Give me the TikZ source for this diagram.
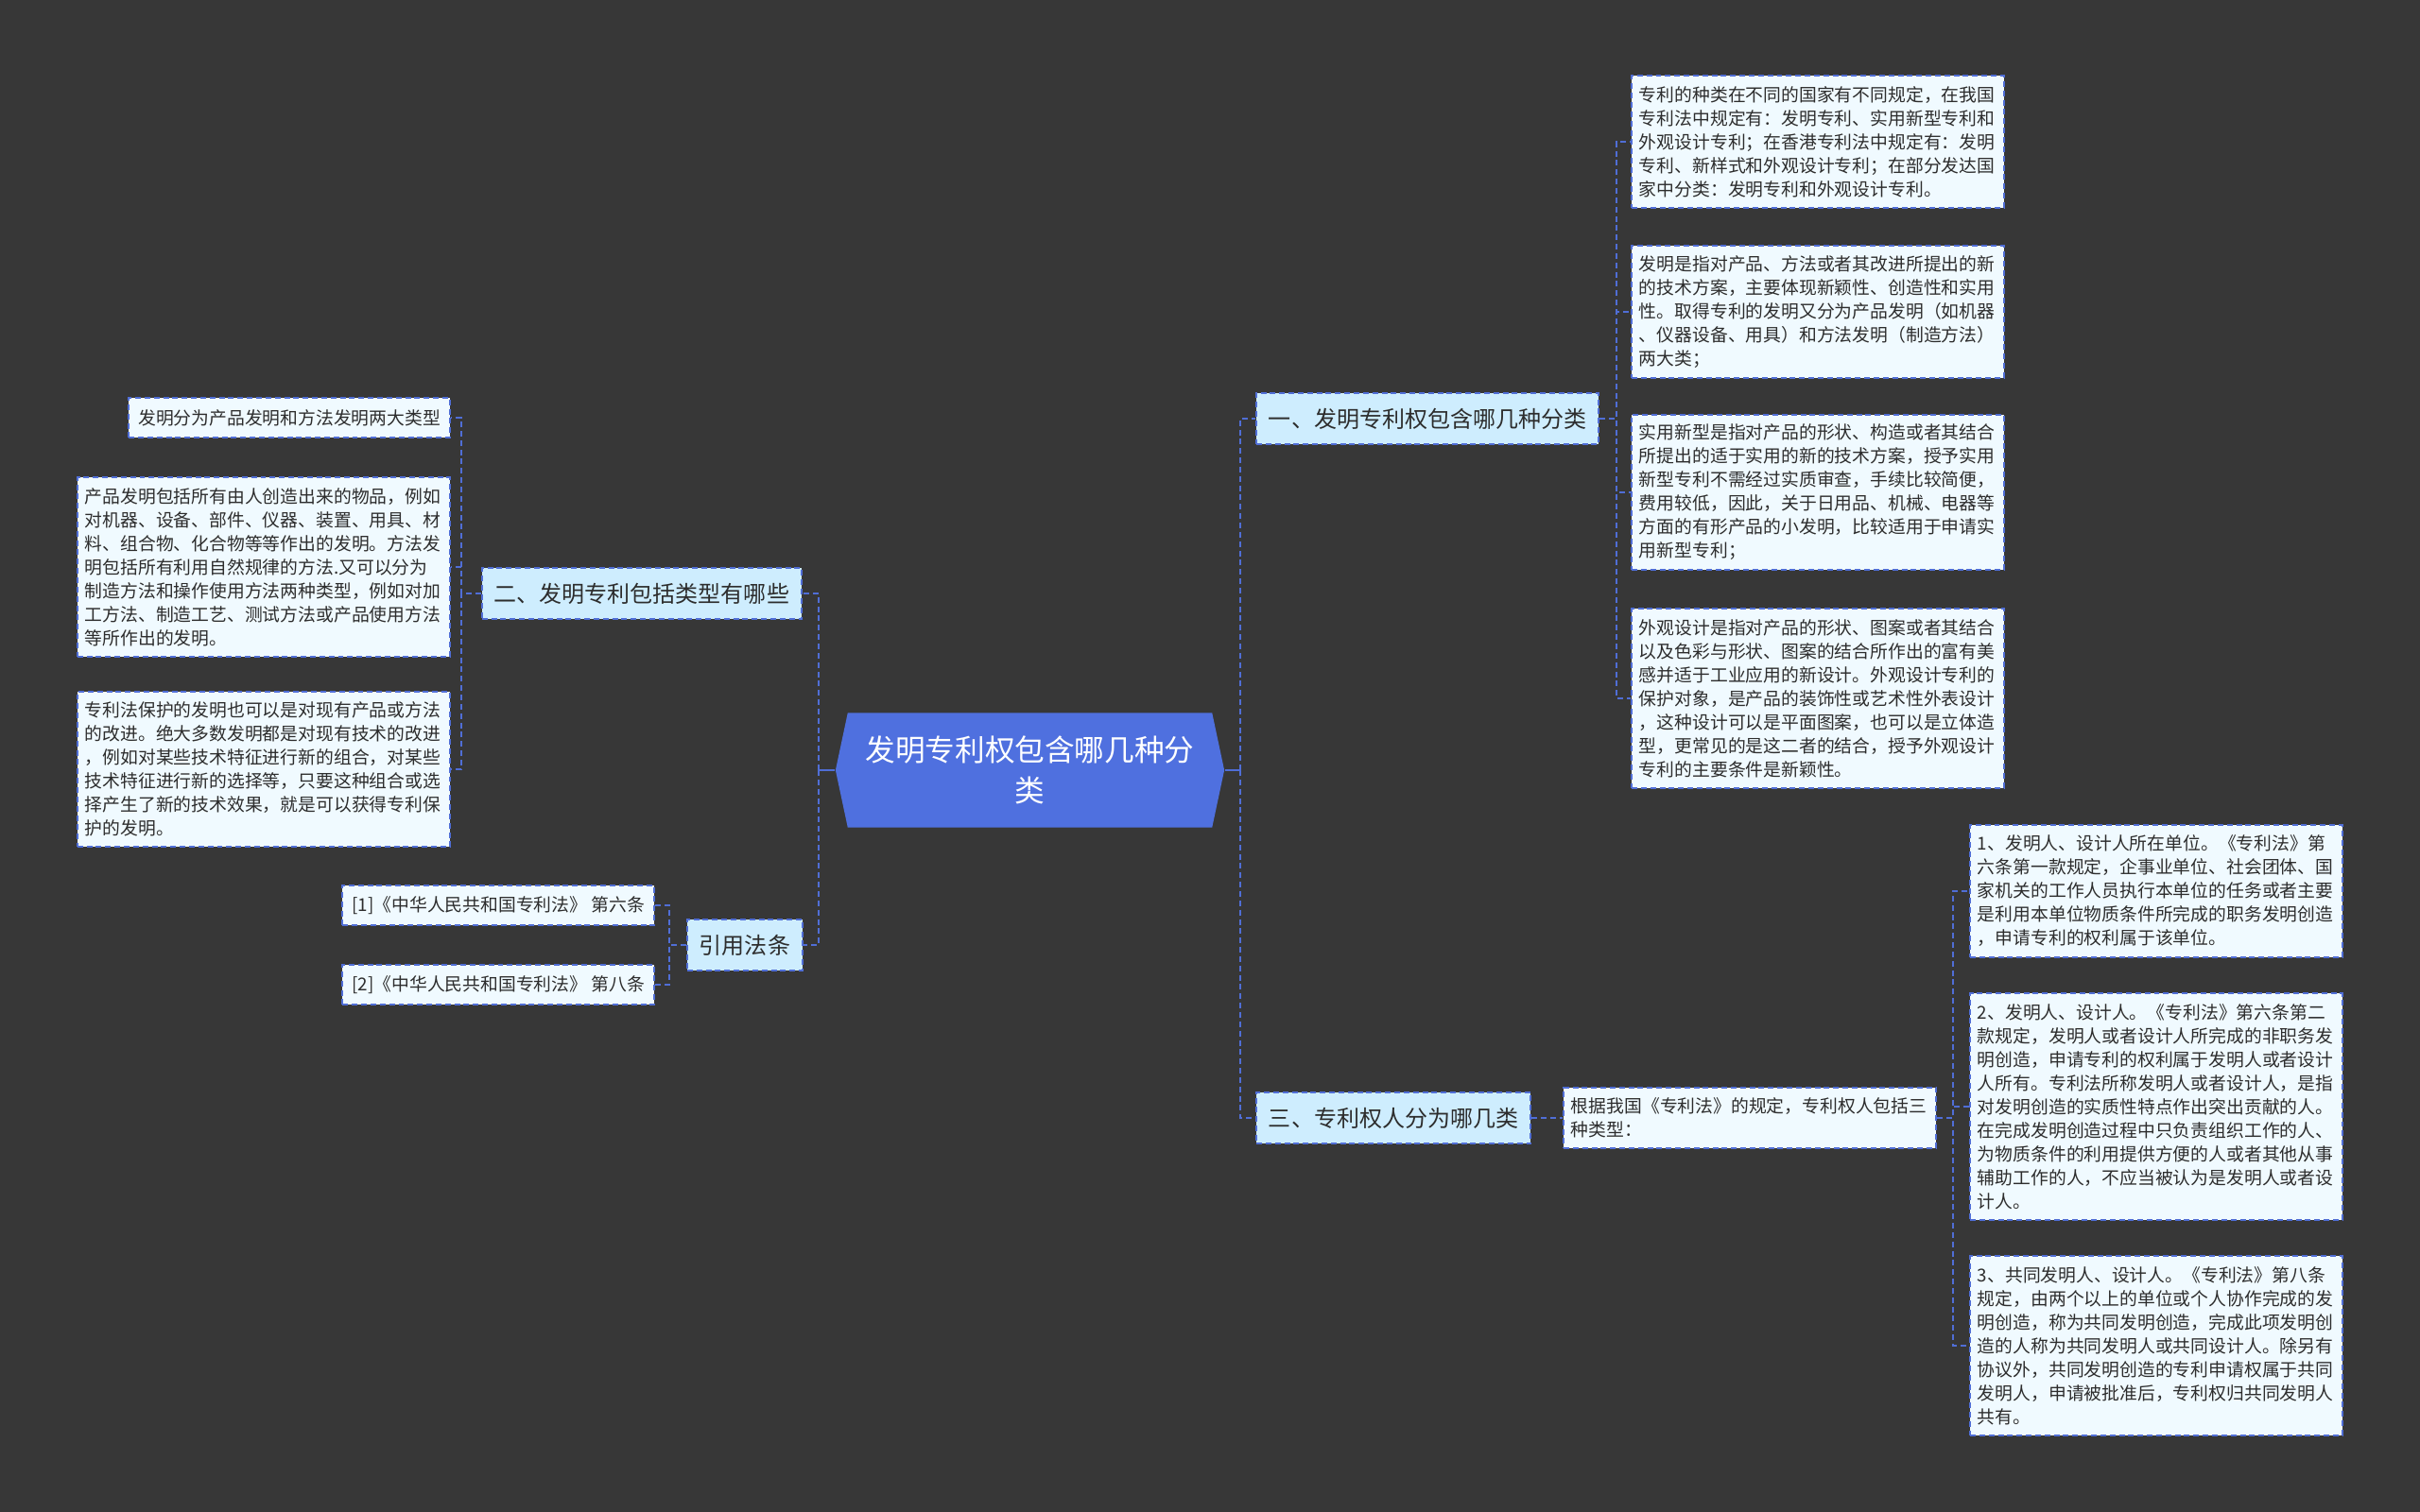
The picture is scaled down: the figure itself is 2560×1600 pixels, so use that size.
\documentclass[tikz,border=0pt]{standalone}
\usepackage{fontspec}
\usepackage{tikz}
\usetikzlibrary{shapes.symbols}
\newfontfamily\cjk{Noto Sans CJK SC}
\newcommand\rootfont{\cjk\fontsize{9pt}{12.2pt}\selectfont}
\newcommand\topicfont{\cjk\fontsize{6.83pt}{8pt}\selectfont}
\newcommand\leaffont{\cjk\fontsize{5.35pt}{7.11pt}\selectfont}
\definecolor{bgdark}{RGB}{55,55,55}
\definecolor{rootblue}{RGB}{79,112,223}
\definecolor{topicfill}{RGB}{206,237,254}
\definecolor{leaffill}{RGB}{240,250,255}
\definecolor{linkblue}{RGB}{80,110,214}
\definecolor{txt}{RGB}{45,45,45}
\tikzset{%
	boxdash/.style = {dash pattern=on 1.7pt off 1.1pt, line width=0.55pt},
	root/.style    = {shape=signal, signal to=east and west, signal pointer angle=156, fill=rootblue, text=white, minimum width=4.11cm, minimum height=1.21cm, align=center, font=\rootfont},
	topic/.style   = {draw=linkblue, boxdash, fill=topicfill, text=txt, minimum height=0.54cm, inner xsep=0.13cm, font=\topicfont},
	leaf/.style    = {draw=linkblue, boxdash, fill=leaffill, text=txt, text width=3.78cm, align=left, inner xsep=0.08cm, inner ysep=0pt, minimum height=#1*0.25cm+0.14cm, font=\leaffont},
	note/.style    = {draw=linkblue, boxdash, fill=leaffill, text=txt, inner xsep=0.1cm, minimum height=0.42cm, font=\leaffont},
	link/.style    = {draw=linkblue, boxdash},
	stem/.style    = {draw=linkblue, line width=0.55pt},
}
\begin{document}
\begin{tikzpicture}[x=0.01cm,y=-0.01cm]
	\useasboundingbox (0,0) rectangle (2560,1600);
	\fill[bgdark] (0,0) rectangle (2560,1600);
	% centre
	\node[root] (ctr) at (1089.5,815) {发明专利权包含哪几种分\\类};
	% right side
	\node[topic, anchor=west] (b1) at (1328,443) {一、发明专利权包含哪几种分类};
	\node[topic, anchor=west] (b3) at (1328,1183) {三、专利权人分为哪几类};
	\node[leaf=5, anchor=west] (l1a) at (1725,150) {专利的种类在不同的国家有不同规定，在我国\\
		专利法中规定有：发明专利、实用新型专利和\\
		外观设计专利；在香港专利法中规定有：发明\\
		专利、新样式和外观设计专利；在部分发达国\\
		家中分类：发明专利和外观设计专利。};
	\node[leaf=5, anchor=west] (l1b) at (1725,330) {发明是指对产品、方法或者其改进所提出的新\\
		的技术方案，主要体现新颖性、创造性和实用\\
		性。取得专利的发明又分为产品发明（如机器\\
		、仪器设备、用具）和方法发明（制造方法）\\
		两大类；};
	\node[leaf=6, anchor=west] (l1c) at (1725,521) {实用新型是指对产品的形状、构造或者其结合\\
		所提出的适于实用的新的技术方案，授予实用\\
		新型专利不需经过实质审查，手续比较简便，\\
		费用较低，因此，关于日用品、机械、电器等\\
		方面的有形产品的小发明，比较适用于申请实\\
		用新型专利；};
	\node[leaf=7, anchor=west] (l1d) at (1725,739) {外观设计是指对产品的形状、图案或者其结合\\
		以及色彩与形状、图案的结合所作出的富有美\\
		感并适于工业应用的新设计。外观设计专利的\\
		保护对象，是产品的装饰性或艺术性外表设计\\
		，这种设计可以是平面图案，也可以是立体造\\
		型，更常见的是这二者的结合，授予外观设计\\
		专利的主要条件是新颖性。};
	\node[leaf=2, anchor=west] (n3) at (1653,1183) {根据我国《专利法》的规定，专利权人包括三\\
		种类型：};
	\node[leaf=5, anchor=west] (l3a) at (2083,943) {1、发明人、设计人所在单位。《专利法》第\\
		六条第一款规定，企事业单位、社会团体、国\\
		家机关的工作人员执行本单位的任务或者主要\\
		是利用本单位物质条件所完成的职务发明创造\\
		，申请专利的权利属于该单位。};
	\node[leaf=9, anchor=west] (l3b) at (2083,1171) {2、发明人、设计人。《专利法》第六条第二\\
		款规定，发明人或者设计人所完成的非职务发\\
		明创造，申请专利的权利属于发明人或者设计\\
		人所有。专利法所称发明人或者设计人，是指\\
		对发明创造的实质性特点作出突出贡献的人。\\
		在完成发明创造过程中只负责组织工作的人、\\
		为物质条件的利用提供方便的人或者其他从事\\
		辅助工作的人，不应当被认为是发明人或者设\\
		计人。};
	\node[leaf=7, anchor=west] (l3c) at (2083,1424) {3、共同发明人、设计人。《专利法》第八条\\
		规定，由两个以上的单位或个人协作完成的发\\
		明创造，称为共同发明创造，完成此项发明创\\
		造的人称为共同发明人或共同设计人。除另有\\
		协议外，共同发明创造的专利申请权属于共同\\
		发明人，申请被批准后，专利权归共同发明人\\
		共有。};
	% left side
	\node[topic, anchor=east] (b2) at (849,628) {二、发明专利包括类型有哪些};
	\node[topic, anchor=east] (b4) at (850,1000) {引用法条};
	\node[note, anchor=east] (l2a) at (477,442) {发明分为产品发明和方法发明两大类型};
	\node[leaf=7, anchor=east] (l2b) at (477,600) {产品发明包括所有由人创造出来的物品，例如\\
		对机器、设备、部件、仪器、装置、用具、材\\
		料、组合物、化合物等等作出的发明。方法发\\
		明包括所有利用自然规律的方法.又可以分为\\
		制造方法和操作使用方法两种类型，例如对加\\
		工方法、制造工艺、测试方法或产品使用方法\\
		等所作出的发明。};
	\node[leaf=6, anchor=east] (l2c) at (477,814) {专利法保护的发明也可以是对现有产品或方法\\
		的改进。绝大多数发明都是对现有技术的改进\\
		，例如对某些技术特征进行新的组合，对某些\\
		技术特征进行新的选择等，只要这种组合或选\\
		择产生了新的技术效果，就是可以获得专利保\\
		护的发明。};
	\node[note, anchor=east] (r1) at (693,958) {[1]《中华人民共和国专利法》 第六条};
	\node[note, anchor=east] (r2) at (693,1042) {[2]《中华人民共和国专利法》 第八条};
	% connectors
	\coordinate (rs) at ([xshift=0.16cm]ctr.east);
	\coordinate (ls) at ([xshift=-0.17cm]ctr.west);
	\draw[stem] (ctr.east) -- (rs);
	\draw[stem] (ctr.west) -- (ls);
	\draw[link] (rs) |- (b1.west);
	\draw[link] (rs) |- (b3.west);
	\draw[link] (ls) |- (b2.east);
	\draw[link] (ls) |- (b4.east);
	\foreach \c in {l1a,l1b,l1c,l1d}
		\draw[link] (b1.east) -- ++(18,0) |- (\c.west);
	\draw[link] (b3.east) -- (n3.west);
	\foreach \c in {l3a,l3b,l3c}
		\draw[link] (n3.east) -- ++(17,0) |- (\c.west);
	\foreach \c in {l2a,l2b,l2c}
		\draw[link] (b2.west) -- ++(-21,0) |- (\c.east);
	\foreach \c in {r1,r2}
		\draw[link] (b4.west) -- ++(-18,0) |- (\c.east);
\end{tikzpicture}
\end{document}
